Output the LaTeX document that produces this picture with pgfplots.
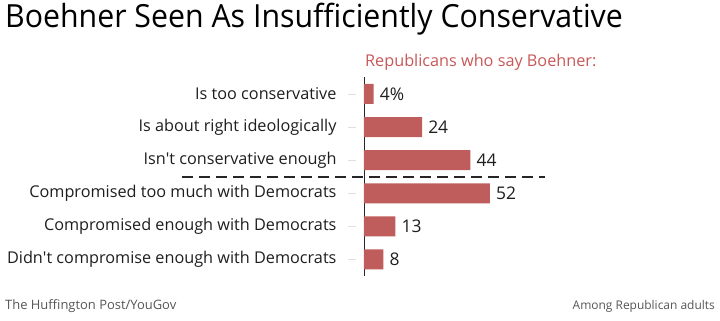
\documentclass[border=0pt]{standalone}
\usepackage{pgfplots}
\pgfplotsset{compat=1.18}
\usepackage{fontspec}
\setmainfont{Open Sans}
\newfontfamily\titlefont{Open Sans}[FakeStretch=0.95]
\definecolor{barred}{RGB}{191,92,92}
\definecolor{subred}{RGB}{200,88,88}
\definecolor{txt}{RGB}{30,30,30}
\definecolor{foot}{RGB}{85,85,85}
\begin{document}
\begin{tikzpicture}
\begin{axis}[name=ax, scale only axis, width=242bp, height=198.6bp,
 xmin=0, xmax=100, ymin=-0.5, ymax=5.5, y dir=reverse,
 xbar, bar width=20bp,
 axis x line=none, axis y line=left,
 axis line style={-, draw=black!85, line width=0.9bp},
 ytick={0,...,5},
 yticklabels={Is too conservative, Is about right ideologically, Isn\textquotesingle t conservative enough, Compromised too much with Democrats, Compromised enough with Democrats, Didn\textquotesingle t compromise enough with Democrats},
 tick align=outside, major tick length=8bp,
 major tick style={draw=black!12, line width=0.8bp, xshift=-8bp},
 yticklabel style={font=\fontsize{16.3}{20}\selectfont, text=txt, xshift=-16bp},
 clip=false,
 nodes near coords, point meta=explicit symbolic,
 every node near coord/.style={anchor=west, inner sep=0pt, xshift=6bp, font=\fontsize{17.5}{20}\selectfont, text=txt}
]
\addplot[fill=barred, draw=none] coordinates {(4,0) [4\%] (24,1) [24] (44,2) [44] (52,3) [52] (13,4) [13] (8,5) [8]};
\draw[black!85, line width=1.6bp, dash pattern=on 11bp off 6bp] (axis cs:-75.2,2.5) -- (axis cs:74.8,2.5);
\end{axis}
\node[anchor=base west, inner sep=0, font=\titlefont\fontsize{32}{36}\selectfont, text=black] at ([shift={(-359bp,248bp)}]ax.south west) {Boehner Seen As Insufficiently Conservative};
\node[anchor=base west, inner sep=0, font=\fontsize{16.3}{20}\selectfont, text=subred] at ([shift={(1bp,209bp)}]ax.south west) {Republicans who say Boehner:};
\node[anchor=base west, inner sep=0, font=\fontsize{13}{14}\selectfont, text=foot] at ([shift={(-359bp,-33bp)}]ax.south west) {The Huffington Post/YouGov};
\node[anchor=base east, inner sep=0, font=\fontsize{12}{14}\selectfont, text=foot] at ([shift={(351bp,-33bp)}]ax.south west) {Among Republican adults};
\pgfresetboundingbox
\path[use as bounding box] ([shift={(-364bp,-45bp)}]ax.south west) rectangle ([shift={(356bp,276bp)}]ax.south west);
\end{tikzpicture}
\end{document}
